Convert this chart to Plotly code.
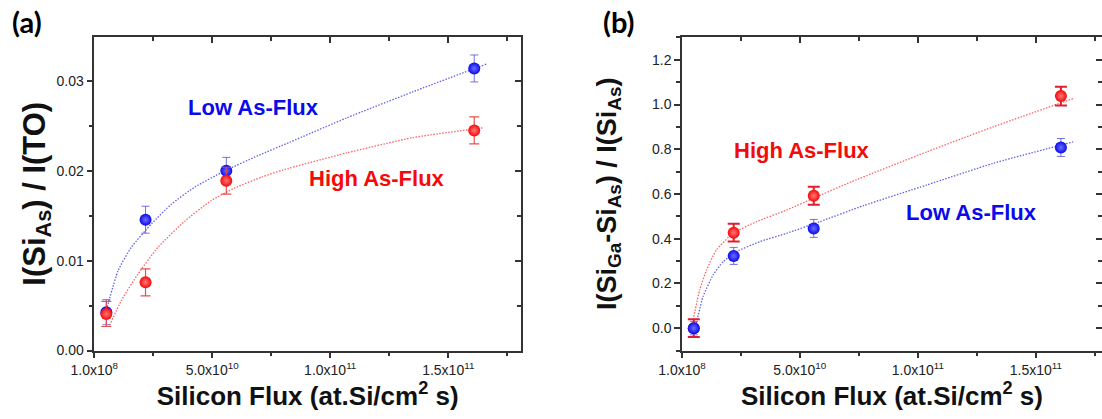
import plotly.graph_objects as go

# ---------------- data ----------------
# panel (a): I(Si_As)/I(TO)
flux_a = [5.2e9, 2.18e10, 5.6e10, 1.61e11]
low_a = [0.00426, 0.01456, 0.0200, 0.0314]
low_a_err = [0.0014, 0.0015, 0.0015, 0.0015]
high_a = [0.00407, 0.00759, 0.0189, 0.0245]
high_a_err = [0.0014, 0.0015, 0.0015, 0.0015]

fit_low_a_x = [5.2e9, 1.02e10, 1.58e10, 2.43e10, 3.28e10, 4.27e10, 5.54e10, 6.95e10, 8.3e10, 1.07e11, 1.35e11, 1.663e11]
fit_low_a_y = [0.0045, 0.0089, 0.0115, 0.0141, 0.0163, 0.0182, 0.0200, 0.0217, 0.0232, 0.0259, 0.0288, 0.0319]
fit_high_a_x = [6.6e9, 1.16e10, 1.86e10, 2.71e10, 3.84e10, 4.97e10, 5.96e10, 7.09e10, 8.0e10, 1.07e11, 1.35e11, 1.648e11]
fit_high_a_y = [0.0028, 0.0056, 0.0085, 0.0115, 0.0144, 0.0167, 0.0181, 0.0193, 0.0201, 0.0220, 0.0237, 0.0248]

# panel (b): I(Si_Ga-Si_As)/I(Si_As)
flux_b = [5.1e9, 2.2e10, 5.59e10, 1.606e11]
high_b = [0.0, 0.427, 0.592, 1.038]
high_b_err = [0.04, 0.04, 0.04, 0.042]
low_b = [0.0, 0.323, 0.446, 0.808]
low_b_err = [0.03, 0.038, 0.04, 0.04]

fit_low_b_x = [6.2e9, 9e9, 1.33e10, 1.75e10, 2.32e10, 3.31e10, 4.44e10, 5.85e10, 7.7e10, 1.037e11, 1.319e11, 1.658e11]
fit_low_b_y = [0.022, 0.141, 0.238, 0.297, 0.342, 0.387, 0.424, 0.476, 0.548, 0.640, 0.737, 0.833]
fit_high_b_x = [4.8e9, 7.6e9, 1.05e10, 1.47e10, 2.17e10, 3.17e10, 4.44e10, 5.56e10, 7.2e10, 1.037e11, 1.319e11, 1.658e11]
fit_high_b_y = [0.037, 0.171, 0.26, 0.35, 0.424, 0.476, 0.528, 0.580, 0.655, 0.788, 0.90, 1.027]

x_tickvals = [1e8, 5e10, 1e11, 1.5e11]
x_ticktext = ["1.0x10<sup>8</sup>", "5.0x10<sup>10</sup>", "1.0x10<sup>11</sup>", "1.5x10<sup>11</sup>"]
x_minor = [2.5e10, 7.5e10, 1.25e11, 1.75e11]

# ---------------- style ----------------
BLUE = "rgb(10,10,235)"
RED = "rgb(245,10,10)"
BLUE_ERR = "rgba(90,90,215,0.85)"
RED_ERR = "rgb(225,30,45)"
BLUE_FIT = "rgba(70,70,220,0.85)"
RED_FIT = "rgba(255,70,70,0.85)"
AX = "#333333"
FONT = "Liberation Sans, Arial, sans-serif"

fig = go.Figure()


def fit_trace(x, y, color, xa, ya):
    return go.Scatter(x=x, y=y, mode="lines", xaxis=xa, yaxis=ya,
                      line=dict(color=color, width=1.3, dash="1.5px,1.5px", shape="spline", smoothing=0.5),
                      hoverinfo="skip", showlegend=False)


def point_trace(x, y, err, color, center, ecolor, ewidth, cap, xa, ya, name):
    return go.Scatter(x=x, y=y, mode="markers", xaxis=xa, yaxis=ya, name=name,
                      error_y=dict(type="data", array=err, visible=True, color=ecolor,
                                   thickness=ewidth, width=cap),
                      marker=dict(size=12, color=color,
                                  gradient=dict(type="radial", color=center),
                                  line=dict(width=0)),
                      showlegend=False)


# panel (a)
fig.add_trace(fit_trace(fit_low_a_x, fit_low_a_y, BLUE_FIT, "x", "y"))
fig.add_trace(fit_trace(fit_high_a_x, fit_high_a_y, RED_FIT, "x", "y"))
fig.add_trace(point_trace(flux_a, low_a, low_a_err, BLUE, "rgb(110,110,255)", BLUE_ERR, 1, 4, "x", "y", "Low As-Flux"))
fig.add_trace(point_trace(flux_a, high_a, high_a_err, RED, "rgb(255,120,120)", "rgba(230,60,60,0.9)", 1.2, 5, "x", "y", "High As-Flux"))

# panel (b)
fig.add_trace(fit_trace(fit_high_b_x, fit_high_b_y, RED_FIT, "x2", "y2"))
fig.add_trace(fit_trace(fit_low_b_x, fit_low_b_y, BLUE_FIT, "x2", "y2"))
fig.add_trace(point_trace(flux_b, high_b, high_b_err, RED, "rgb(255,120,120)", RED_ERR, 2, 6, "x2", "y2", "High As-Flux"))
fig.add_trace(point_trace(flux_b, low_b, low_b_err, BLUE, "rgb(110,110,255)", BLUE_ERR, 1, 4, "x2", "y2", "Low As-Flux"))

# dummy traces to activate the mirrored (inward tick) axes
for xa, ya in [("x3", "y"), ("x", "y3"), ("x4", "y2"), ("x2", "y4")]:
    fig.add_trace(go.Scatter(x=[None], y=[None], xaxis=xa, yaxis=ya, mode="markers",
                             showlegend=False, hoverinfo="skip"))

W, H = 1102, 419
dom_xa = [94.3 / W, 521 / W]
dom_xb = [682 / W, 1.0]
dom_y = [(H - 350.5) / H, (H - 37) / H]

xr_a = [1e8, 1.808e11]
xr_b = [1e8, 1.78e11]
yr_a = [0, 0.0349]
yr_b = [-0.1, 1.302]

tickfont = dict(family=FONT, size=14, color="#222222")
xtitle = "Silicon Flux (at.Si/cm<sup>2</sup> s)"


def tfont(size):
    return dict(family=FONT, size=size, color="#111111", weight="bold")


def xaxis_main(domain, rng, anchor):
    return dict(domain=domain, range=rng, anchor=anchor, automargin=False, tickmode="array",
                tickvals=x_tickvals, ticktext=x_ticktext, ticks="outside", ticklen=6,
                tickwidth=1.5, tickcolor=AX, showline=True, linecolor=AX, linewidth=1.5,
                mirror=True, showgrid=False, zeroline=False, tickfont=tickfont,
                minor=dict(tickmode="array", tickvals=x_minor, ticks="outside", ticklen=4,
                           tickwidth=1.5, tickcolor=AX, showgrid=False),
                title=dict(text=xtitle, font=tfont(26), standoff=5))


def xaxis_top(rng, overlay, anchor):
    return dict(range=rng, overlaying=overlay, anchor=anchor, side="top", automargin=False,
                tickmode="array", tickvals=x_tickvals, ticks="inside", ticklen=6, tickwidth=1.5,
                tickcolor=AX, showticklabels=False, showline=False, showgrid=False, zeroline=False,
                minor=dict(tickmode="array", tickvals=x_minor, ticks="inside", ticklen=4,
                           tickwidth=1.5, tickcolor=AX, showgrid=False))


def yaxis_main(rng, anchor, dtick, mdtick, fmt, title, size, standoff):
    return dict(domain=dom_y, range=rng, anchor=anchor, automargin=False, tickmode="linear",
                tick0=0, dtick=dtick, tickformat=fmt, ticks="outside", ticklen=6, tickwidth=1.5,
                tickcolor=AX, showline=True, linecolor=AX, linewidth=1.5, mirror=True,
                showgrid=False, zeroline=False, tickfont=tickfont,
                minor=dict(tick0=0, dtick=mdtick, ticks="outside", ticklen=4, tickwidth=1.5,
                           tickcolor=AX, showgrid=False),
                title=dict(text=title, font=tfont(size), standoff=standoff))


def yaxis_right(rng, overlay, anchor, dtick, mdtick):
    return dict(range=rng, overlaying=overlay, anchor=anchor, side="right", automargin=False,
                tickmode="linear", tick0=0, dtick=dtick, ticks="inside", ticklen=6, tickwidth=1.5,
                tickcolor=AX, showticklabels=False, showline=False, showgrid=False, zeroline=False,
                minor=dict(tick0=0, dtick=mdtick, ticks="inside", ticklen=4, tickwidth=1.5,
                           tickcolor=AX, showgrid=False))


fig.update_layout(
    width=W, height=H, margin=dict(l=0, r=0, t=0, b=0, autoexpand=False),
    paper_bgcolor="white", plot_bgcolor="white", showlegend=False,
    xaxis=xaxis_main(dom_xa, xr_a, "y"),
    yaxis=yaxis_main(yr_a, "x", 0.01, 0.005, ".2f", "I(Si<sub>As</sub>) / I(TO)", 31, 0),
    xaxis2=xaxis_main(dom_xb, xr_b, "y2"),
    yaxis2=yaxis_main(yr_b, "x2", 0.2, 0.1, ".1f",
                      "I(Si<sub>Ga</sub>-Si<sub>As</sub>) / I(Si<sub>As</sub>)", 27, 28),
    xaxis3=xaxis_top(xr_a, "x", "y"),
    yaxis3=yaxis_right(yr_a, "y", "x", 0.01, 0.005),
    xaxis4=xaxis_top(xr_b, "x2", "y2"),
    yaxis4=yaxis_right(yr_b, "y2", "x2", 0.2, 0.1),
)

label_font = dict(family=FONT, size=22, weight="bold")
annots = [
    dict(text="Low As-Flux", x=6.75e10, y=0.0271, xref="x", yref="y", font=dict(label_font, color=BLUE)),
    dict(text="High As-Flux", x=1.2e11, y=0.0191, xref="x", yref="y", font=dict(label_font, color=RED)),
    dict(text="High As-Flux", x=5.08e10, y=0.796, xref="x2", yref="y2", font=dict(label_font, color=RED)),
    dict(text="Low As-Flux", x=1.229e11, y=0.515, xref="x2", yref="y2", font=dict(label_font, color=BLUE)),
    dict(text="(a)", x=27 / W, y=(H - 21) / H, xref="paper", yref="paper",
         font=dict(family="Lato", size=29, weight="bold", color="black")),
    dict(text="(b)", x=619 / W, y=(H - 21) / H, xref="paper", yref="paper",
         font=dict(family="Lato", size=29, weight="bold", color="black")),
]
for a in annots:
    fig.add_annotation(showarrow=False, xanchor="center", yanchor="middle", **a)

fig.write_html("out.html")
